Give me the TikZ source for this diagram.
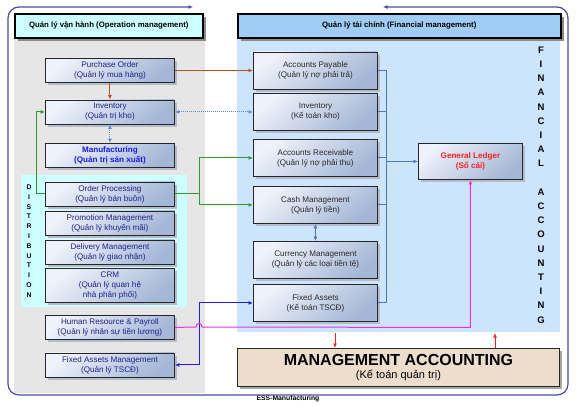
\documentclass[tikz,border=0pt]{standalone}
\usepackage{fontspec}
\setmainfont{Liberation Sans}
\usetikzlibrary{arrows.meta,shadows}
\definecolor{framec}{HTML}{4B4BA5}
\definecolor{graypanel}{HTML}{E6E6E6}
\definecolor{bluepanel}{HTML}{CCE5FD}
\definecolor{cyanpanel}{HTML}{CCFFFF}
\definecolor{hdrblue}{HTML}{9FCDF5}
\definecolor{boxtop}{HTML}{EEF2FA}
\definecolor{boxbot}{HTML}{A4B7D6}
\definecolor{leftext}{HTML}{20208C}
\definecolor{rightext}{HTML}{2A2A2A}
\definecolor{mfgblue}{HTML}{1A1AF0}
\definecolor{glred}{HTML}{FF2020}
\definecolor{brownc}{HTML}{C0501E}
\definecolor{greenc}{HTML}{2E9A2E}
\definecolor{lightbluec}{HTML}{5A8AD8}
\definecolor{busblue}{HTML}{4A78C8}
\definecolor{deepblue}{HTML}{1E1EE6}
\definecolor{magentac}{HTML}{F030E0}
\definecolor{mabeige}{HTML}{EDDDCD}
\definecolor{shadowc}{HTML}{B4BCCB}
\begin{document}
\begin{tikzpicture}[x=1pt,y=-1pt,
  tip/.style={-{Latex[length=4.5pt,width=4pt]}},
  tips/.style={{Latex[length=4.5pt,width=4pt]}-{Latex[length=4.5pt,width=4pt]}},
  basebox/.style={draw=black!85, line width=0.9pt, anchor=north west, inner sep=1pt,
    align=center, shading=axis, top color=boxtop, bottom color=boxbot, shading angle=40,
    drop shadow={shadow xshift=3pt, shadow yshift=-3pt, fill=shadowc, opacity=1},
    font=\fontsize{8.1}{10}\selectfont},
  lbox/.style={basebox, minimum width=129pt, minimum height=24pt, text=leftext},
  rbox/.style={basebox, minimum width=124pt, minimum height=37pt, text=rightext},
  hdr/.style={draw=black, line width=1.5pt, anchor=north west, minimum height=24pt,
    font=\bfseries\fontsize{7.8}{9}\selectfont,
    drop shadow={shadow xshift=3pt, shadow yshift=-3pt, fill=black!45, opacity=1}},
  vlet/.style={align=center, inner sep=0pt},
]
\useasboundingbox (0,0) rectangle (576,405);
% panels
\fill[graypanel] (14,13) rectangle (205,393);
\fill[bluepanel] (237,30) rectangle (560,332);
\fill[cyanpanel] (21,175) rectangle (187,307);
% headers
\node[hdr, fill=cyanpanel, minimum width=188pt] (hl) at (14,13) {Quản lý vận hành (Operation management)};
\node[hdr, fill=hdrblue, minimum width=323pt] (hr2) at (237,13) {Quản lý tài chính (Financial management)};
% vertical labels
\node[vlet, font=\bfseries\fontsize{6.8}{9.8}\selectfont] (dist) at (29,241) {D\\I\\S\\T\\R\\I\\B\\U\\T\\I\\O\\N};
\node[vlet, font=\bfseries\fontsize{9.5}{14.2}\selectfont] (fin) at (541,185) {F\\I\\N\\A\\N\\C\\I\\A\\L\\~\\A\\C\\C\\O\\U\\N\\T\\I\\N\\G};
% left boxes
\node[lbox] (po) at (45,58) {Purchase Order\\(Quản lý mua hàng)};
\node[lbox] (inv1) at (45,99.5) {Inventory\\(Quản trị kho)};
\node[lbox, text=mfgblue, font=\bfseries\fontsize{8.1}{10}\selectfont] (mfg) at (45,143) {Manufacturing\\(Quản trị sản xuất)};
\node[lbox] (op) at (45,181.5) {Order Processing\\(Quản lý bán buôn)};
\node[lbox] (pm) at (45,210.5) {Promotion Management\\(Quản lý khuyến mãi)};
\node[lbox] (dm) at (45,239.5) {Delivery Management\\(Quản lý giao nhận)};
\node[lbox, minimum height=34pt] (crm) at (45,268) {CRM\\(Quản lý quan hệ\\nhà phân phối)};
\node[lbox] (hrp) at (45,315) {Human Resource \& Payroll\\(Quản lý nhân sự tiền lương)};
\node[lbox] (fam) at (45,352.5) {Fixed Assets Management\\(Quản lý TSCĐ)};
% right boxes
\node[rbox] (ap) at (253,51.5) {Accounts Payable\\(Quản lý nợ phải trả)};
\node[rbox] (inv2) at (253,93) {Inventory\\(Kế toán kho)};
\node[rbox] (ar) at (253,139) {Accounts Receivable\\(Quản lý nợ phải thu)};
\node[rbox] (cm) at (253,186) {Cash Management\\(Quản lý tiền)};
\node[rbox] (cur) at (253,241) {Currency Management\\(Quản lý các loại tiền tệ)};
\node[rbox] (fa) at (253,284) {Fixed Assets\\(Kế toán TSCĐ)};
\node[basebox, minimum width=104pt, minimum height=36pt, text=glred, font=\bfseries\fontsize{8.1}{10}\selectfont] (gl) at (418,143) {General Ledger\\(Sổ cái)};
% management accounting
\node[draw=black!85, line width=0.9pt, fill=mabeige, anchor=north west, minimum width=322pt, minimum height=38pt,
  align=center, inner sep=1pt, drop shadow={shadow xshift=3pt, shadow yshift=-3pt, fill=black!35, opacity=1}] (ma) at (237,348)
  {{\bfseries\fontsize{16}{17}\selectfont MANAGEMENT ACCOUNTING}\\[1pt]{\fontsize{11}{13}\selectfont (Kế toán quản trị)}};
\node[font=\bfseries\fontsize{6.8}{8}\selectfont, inner sep=0pt] (ess) at (288,399) {ESS-Manufacturing};
% outer frame
\draw[framec, line width=1.2pt, rounded corners=11pt, tips]
  (193,7) -- (8,7) -- (8,395) -- (568,395) -- (568,7) -- (383,7);
% connectors
\draw[brownc, line width=1pt, tip] (po.east) -- (ap.west);
\draw[brownc, line width=1pt, tip] (po.south) -- (inv1.north);
\draw[lightbluec, line width=1pt, densely dotted, tips] (inv1.south) -- (mfg.north);
\draw[lightbluec, line width=1pt, densely dotted, tips] (inv1.east) -- (inv2.west);
\draw[greenc, line width=1pt, tip] (op.west) -- ++(-9,0) |- (inv1.west);
\draw[greenc, line width=1pt] (op.east) -- ++(25,0) coordinate (gj);
\draw[greenc, line width=1pt, tip] (gj) |- (ar.west);
\draw[greenc, line width=1pt, tip] (gj) |- (cm.west);
\draw[busblue, line width=1pt] (ap.east) -- ++(9,0) coordinate (bus) -- (bus |- fa.east) -- (fa.east);
\draw[busblue, line width=1pt] (inv2.east) -- (inv2.east -| bus);
\draw[busblue, line width=1pt] (ar.east) -- (ar.east -| bus);
\draw[busblue, line width=1pt] (cm.east) -- (cm.east -| bus);
\draw[busblue, line width=1pt, tip] (bus |- gl.west) -- (gl.west);
\draw[busblue, line width=1pt, tips] (cm.south) -- (cm.south |- cur.north);
\draw[deepblue, line width=1pt, tips] (fam.east) -- (gj |- fam.east) -- (gj |- fa.west) -- (fa.west);
\draw[magentac, line width=1pt, tip] (hrp.east) -- (196,327) .. controls (196,322) and (202,322) .. (202,327) -- (hrp.east -| gl.south) -- (gl.south);
\coordinate (r1) at (335,333);
\coordinate (r2) at (495,333);
\draw[glred, line width=1pt, tip] (r1) -- (r1 |- ma.north);
\draw[glred, line width=1pt, tip] (r2 |- ma.north) -- (r2);
\end{tikzpicture}
\end{document}
